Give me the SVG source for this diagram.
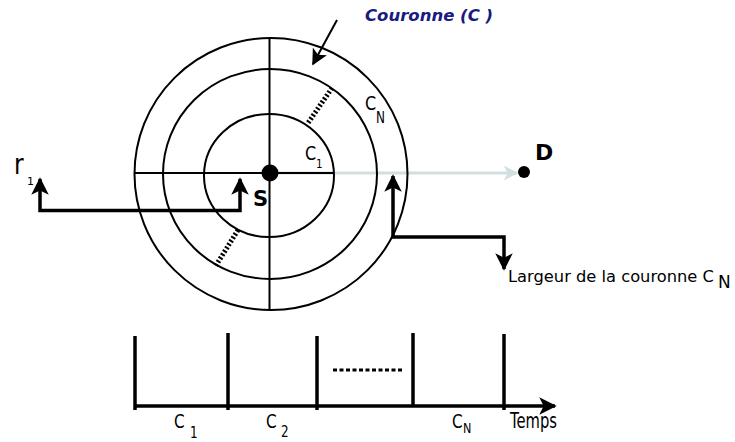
<svg xmlns="http://www.w3.org/2000/svg" width="735" height="442" viewBox="0 0 735 442">
<style>
.ln{fill:none;stroke:#000;stroke-width:2}
.thick{fill:none;stroke:#000;stroke-width:3.5}
.dot{fill:none;stroke:#000;stroke-width:5;stroke-dasharray:2,2}
.t{font-family:"DejaVu Sans","Liberation Sans",sans-serif;fill:#000}
.b{font-weight:bold}
</style>
<defs>
<marker id="ah" viewBox="0 0 10 10" refX="9" refY="5" markerWidth="5" markerHeight="5" markerUnits="strokeWidth" orient="auto-start-reverse"><path d="M0,0 L10,5 L0,10 L2.5,5 Z" fill="#000"/></marker>
<marker id="ahThin" viewBox="0 0 10 10" refX="9" refY="5" markerWidth="8" markerHeight="8" markerUnits="strokeWidth" orient="auto"><path d="M0,0 L10,5 L0,10 L2.5,5 Z" fill="#000"/></marker>
<marker id="ahGray" viewBox="0 0 10 10" refX="9" refY="5" markerWidth="5" markerHeight="5" markerUnits="strokeWidth" orient="auto"><path d="M0,0 L10,5 L0,10 L3,5 Z" fill="#d3dfdf"/></marker>
</defs>
<g id="connectors">
<line x1="270" y1="173" x2="517" y2="173" stroke="#d3dfdf" stroke-width="3" marker-end="url(#ahGray)"/>
<line x1="337" y1="20" x2="313" y2="64" class="ln" stroke-width="1.8" marker-end="url(#ahThin)"/>
<path d="M40,179 V210.5 H240 V179" class="thick" marker-start="url(#ah)" marker-end="url(#ah)"/>
<path d="M393,176 V237 H504 V269" class="thick" marker-start="url(#ah)" marker-end="url(#ah)"/>
</g>
<g id="rings">
<ellipse cx="271" cy="174" rx="136.5" ry="136" class="ln"/>
<ellipse cx="270" cy="174" rx="107" ry="105" class="ln"/>
<ellipse cx="269" cy="175.5" rx="65" ry="61.5" class="ln"/>
<line x1="269.5" y1="38" x2="269.5" y2="310" class="ln"/>
<line x1="134.5" y1="173" x2="334" y2="173" class="ln"/>
<line x1="332" y1="88" x2="308" y2="123" class="dot"/>
<line x1="238" y1="230" x2="215" y2="267" class="dot"/>
</g>
<g id="S">
<circle cx="270" cy="173" r="8.5" fill="#000"/>
<text x="253" y="206" class="t b" font-size="21">S</text>
</g>
<g id="D">
<circle cx="524" cy="172" r="6" fill="#000"/>
<text x="535" y="160" class="t b" font-size="22">D</text>
</g>
<g id="couronne-label">
<text x="365" y="21" class="t b" font-size="16.5" font-style="italic" style="fill:#1a1a80">Couronne (C )</text>
</g>
<g id="r1-label">
<text transform="translate(14,174) scale(0.9,1.1)" class="t" font-size="26">r</text>
<text x="27" y="185" class="t" font-size="11">1</text>
</g>
<g id="ring-labels">
<text transform="translate(365,110) scale(0.8,1)" class="t" font-size="20">C</text>
<text transform="translate(376,123) scale(0.8,1)" class="t" font-size="15">N</text>
<text transform="translate(305,160) scale(0.8,1)" class="t" font-size="20">C</text>
<text transform="translate(316,168) scale(0.8,1)" class="t" font-size="13">1</text>
</g>
<g id="largeur-label">
<text x="508" y="282" class="t" font-size="16.3">Largeur de la couronne C</text>
<text x="718" y="288" class="t" font-size="17">N</text>
</g>
<g id="timeline">
<line x1="135" y1="406" x2="555" y2="406" class="thick" stroke-width="3" marker-end="url(#ah)"/>
<line x1="135" y1="336" x2="135" y2="410" class="thick" stroke-width="3"/>
<line x1="228" y1="333" x2="228" y2="410" class="thick" stroke-width="3"/>
<line x1="317" y1="336" x2="317" y2="410" class="thick" stroke-width="3"/>
<line x1="413" y1="333" x2="413" y2="407" class="thick" stroke-width="3"/>
<line x1="504" y1="334" x2="504" y2="410" class="thick" stroke-width="3"/>
<line x1="333" y1="370" x2="402" y2="370" stroke="#000" stroke-width="3" stroke-dasharray="4,2.5"/>
<text transform="translate(174,428) scale(0.8,1)" class="t" font-size="19">C</text>
<text transform="translate(190,438) scale(0.8,1)" class="t" font-size="15">1</text>
<text transform="translate(266,428) scale(0.8,1)" class="t" font-size="19">C</text>
<text transform="translate(281,437) scale(0.8,1)" class="t" font-size="15">2</text>
<text transform="translate(452,428) scale(0.8,1)" class="t" font-size="19">C</text>
<text transform="translate(463,433) scale(0.8,1)" class="t" font-size="14">N</text>
<text transform="translate(510,428) scale(0.82,1.15)" class="t" font-size="18">Temps</text>
</g>
</svg>
